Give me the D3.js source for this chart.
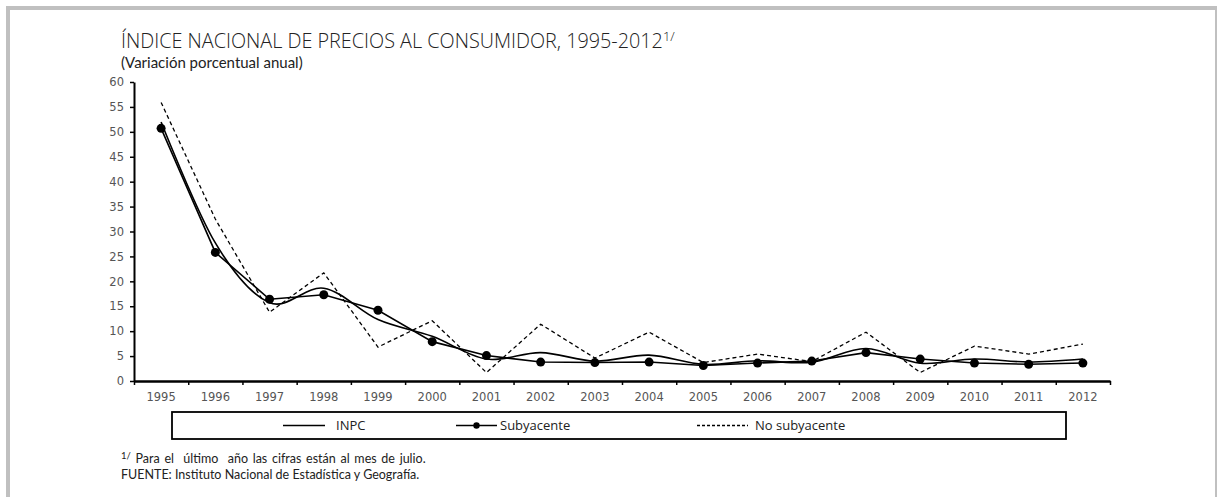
<!DOCTYPE html>
<html><head><meta charset="utf-8">
<script src="https://cdn.jsdelivr.net/npm/d3@7"></script>
<style>
html,body{margin:0;padding:0;background:#fff;}
svg{display:block;}
text{white-space:pre;}
</style></head>
<body>
<svg id="c" width="1217" height="497"></svg>
<script>
const years = ["1995","1996","1997","1998","1999","2000","2001","2002","2003","2004","2005","2006","2007","2008","2009","2010","2011","2012"];
const inpc = [51.97,27.70,15.72,18.61,12.32,8.96,4.40,5.70,3.98,5.19,3.33,4.05,3.76,6.53,3.57,4.40,3.82,4.42];
const subyacente = [50.7,25.8,16.4,17.3,14.2,7.9,5.1,3.8,3.7,3.8,3.1,3.6,4.0,5.7,4.4,3.6,3.35,3.6];
const noSubyacente = [55.9,32.5,13.8,21.7,6.8,12.1,1.7,11.4,4.6,9.8,3.7,5.4,3.9,9.8,1.7,7.0,5.4,7.4];
const yTicks = [0,5,10,15,20,25,30,35,40,45,50,55,60];
const seriesNames = ["INPC","Subyacente","No subyacente"];

const svg = d3.select("#c");
// frame
svg.append("rect").attr("x",6).attr("y",6).attr("width",4).attr("height",491).attr("fill","#c0c0c0");
svg.append("rect").attr("x",6).attr("y",6).attr("width",1211).attr("height",4).attr("fill","#c0c0c0");
svg.append("rect").attr("x",1215).attr("y",6).attr("width",2).attr("height",491).attr("fill","#c0c0c0");

// titles
const tf = "'Open Sans', 'Noto Sans', sans-serif";
const title = svg.append("text").attr("x",121).attr("y",48).attr("font-family",tf).attr("font-weight",300)
  .attr("font-size",19.8).attr("fill","#222");
title.append("tspan").text("ÍNDICE NACIONAL DE PRECIOS AL CONSUMIDOR, 1995-2012");
title.append("tspan").attr("dy",-7).attr("font-size",13).text("1/");
svg.append("text").attr("x",121).attr("y",68).attr("font-family","Lato, sans-serif")
  .attr("font-size",15).attr("fill","#222").text("(Variación porcentual anual)");

const x = d3.scaleBand().domain(years).range([134,1110]).padding(0);
const y = d3.scaleLinear().domain([0,60]).range([381,82]);
const cx = d => x(d) + x.bandwidth()/2;

// y axis
const yAxis = svg.append("g").attr("transform","translate(134,0)")
  .call(d3.axisLeft(y).tickValues(yTicks).tickSize(4).tickSizeOuter(0).tickPadding(6));
yAxis.select(".domain").attr("stroke","#000").attr("stroke-width",2);
yAxis.selectAll(".tick line").attr("stroke","#000").attr("stroke-width",1.5);
yAxis.selectAll(".tick text").attr("font-family","'DejaVu Sans', sans-serif").attr("font-size",11.5).attr("fill","#555");

// x axis: labels centered in bands, ticks at band boundaries
const xAxis = svg.append("g").attr("transform","translate(0,381)")
  .call(d3.axisBottom(x).tickSize(0).tickPadding(12));
xAxis.select(".domain").remove();
xAxis.selectAll(".tick text").attr("font-family","'DejaVu Sans', sans-serif").attr("font-size",11.5).attr("fill","#555");
const bounds = years.map(d => x(d)).concat([x(years[years.length-1]) + x.bandwidth()]);
const xLin = d3.scaleLinear().domain([134,1110]).range([134,1110]);
const xTicksG = svg.append("g").attr("transform","translate(0,381)")
  .call(d3.axisBottom(xLin).tickValues(bounds).tickFormat("").tickSize(4).tickSizeOuter(0));
xTicksG.select(".domain").attr("stroke","#000").attr("stroke-width",2.5);
xTicksG.selectAll(".tick line").attr("stroke","#000").attr("stroke-width",1.5);

// lines
const smooth = d3.line().x((d,i)=>cx(years[i])).y(d=>y(d)).curve(d3.curveCatmullRom.alpha(0));
const straight = d3.line().x((d,i)=>cx(years[i])).y(d=>y(d));
svg.append("path").attr("d",straight(noSubyacente)).attr("fill","none").attr("stroke","#000")
  .attr("stroke-width",1.3).attr("stroke-dasharray","4,3");
svg.append("path").attr("d",smooth(inpc)).attr("fill","none").attr("stroke","#000").attr("stroke-width",1.6);
svg.append("path").attr("d",straight(subyacente)).attr("fill","none").attr("stroke","#000").attr("stroke-width",1.6);
svg.selectAll("circle.sub").data(subyacente).enter().append("circle").attr("class","sub")
  .attr("cx",(d,i)=>cx(years[i])).attr("cy",d=>y(d)).attr("r",4.5).attr("fill","#000");

// legend
const lg = svg.append("g");
lg.append("rect").attr("x",172).attr("y",412).attr("width",894).attr("height",27)
  .attr("fill","#fff").attr("stroke","#000").attr("stroke-width",1.8);
const lf = "'Liberation Sans Narrow', 'Open Sans', sans-serif";
const items = [
  {name:seriesNames[0], x1:283, x2:325, tx:336, dash:null, marker:false},
  {name:seriesNames[1], x1:456, x2:497, tx:500, dash:null, marker:true},
  {name:seriesNames[2], x1:697, x2:748, tx:755, dash:"3,2", marker:false}
];
items.forEach(it=>{
  lg.append("line").attr("x1",it.x1).attr("x2",it.x2).attr("y1",425.5).attr("y2",425.5)
    .attr("stroke","#000").attr("stroke-width",1.3).attr("stroke-dasharray",it.dash);
  if(it.marker) lg.append("circle").attr("cx",(it.x1+it.x2)/2).attr("cy",425.5).attr("r",3.2).attr("fill","#000");
  lg.append("text").attr("x",it.tx).attr("y",430).attr("font-family",lf).attr("font-size",13)
    .attr("fill","#222").text(it.name);
});

// footnotes
const ff = "Lato, 'Open Sans', sans-serif";
const fn1 = svg.append("text").attr("x",121).attr("y",463).attr("font-family",ff).attr("font-size",12.5).attr("fill","#222");
fn1.append("tspan").attr("font-size",9.5).attr("dy",-4).text("1/");
fn1.append("tspan").attr("dy",4).attr("word-spacing",1.5).text(" Para el  último  año las cifras están al mes de julio.");
svg.append("text").attr("x",121).attr("y",479).attr("font-family",ff).attr("font-size",12.5).attr("fill","#222")
  .text("FUENTE: Instituto Nacional de Estadística y Geografía.");
</script>
</body></html>
